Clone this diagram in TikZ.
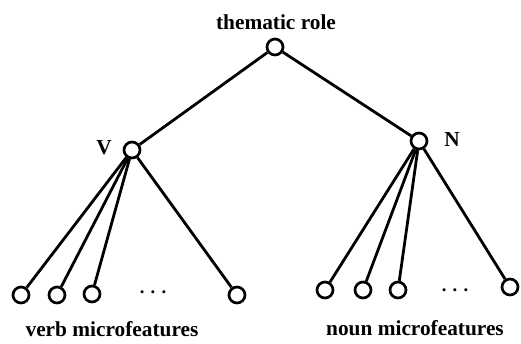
\documentclass[tikz,border=0pt]{standalone}
\usepackage{fontspec}
\setmainfont{Liberation Serif}
\usepackage{tikz}
\usetikzlibrary{positioning}
\tikzset{
  unit/.style={circle, draw=black, line width=2pt, fill=white, minimum size=12pt, inner sep=0pt},
  link/.style={draw=black, line width=2.1pt},
  lbl/.style={font=\fontsize{16}{18}\selectfont\bfseries, inner sep=0pt}
}

\begin{document}
\begin{tikzpicture}[x=0.75pt, y=-0.75pt]
        \useasboundingbox (0,0) rectangle (521,343);
        % tree nodes
        \node[unit] (top) at (275,47) {};
        \node[unit] (v) at (132,150) {};
        \node[unit] (n) at (419,141) {};
        \node[unit] (v1) at (21,295) {};
        \node[unit] (v2) at (57,295) {};
        \node[unit] (v3) at (92,294) {};
        \node[unit] (v4) at (237,295) {};
        \node[unit] (n1) at (325,290) {};
        \node[unit] (n2) at (363,290) {};
        \node[unit] (n3) at (398,290) {};
        \node[unit] (n4) at (510,287) {};
        % labels
        \node[lbl] (toplbl) at (276,22) {thematic role};
        \node[lbl] (vlbl) at (104,148) {V};
        \node[lbl] (nlbl) at (452,140) {N};
        \node[lbl, font=\fontsize{14}{16}\selectfont\bfseries] (vdots) at (153,292) {. . .};
        \node[lbl, font=\fontsize{14}{16}\selectfont\bfseries] (ndots) at (455,290) {. . .};
        \node[lbl, anchor=base] (vtext) at (112,336) {verb microfeatures};
        \node[lbl, anchor=base] (ntext) at (415,335) {noun microfeatures};
        % connections
        \draw[link] (top) -- (v);
        \draw[link] (top) -- (n);
        \foreach \k in {1,...,4} {
            \draw[link] (v) -- (v\k);
            \draw[link] (n) -- (n\k);
        }
    \end{tikzpicture}
\end{document}
